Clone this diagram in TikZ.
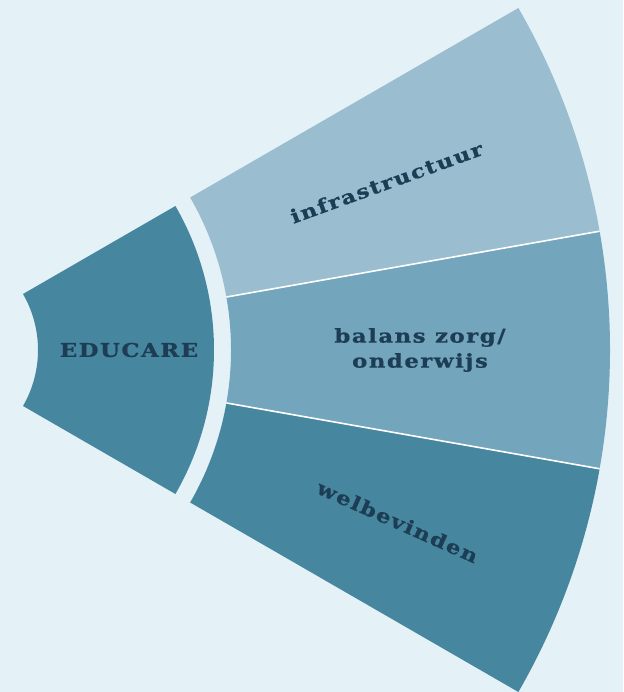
\documentclass[tikz,border=0pt]{standalone}
\usepackage{fontspec}
\setmainfont{DejaVu Serif}
\newfontfamily\labfont[FakeStretch=1.2,LetterSpace=8,BoldFeatures={FakeBold=0.8}]{DejaVu Serif}
\definecolor{bgc}{HTML}{E4F2F8}
\definecolor{secdark}{HTML}{46879F}
\definecolor{sectop}{HTML}{9BBDD0}
\definecolor{secmid}{HTML}{73A5BD}
\definecolor{txt}{HTML}{1C3D54}
\tikzset{
  lab/.style={text=txt, font=\labfont\bfseries\fontsize{19}{25}\selectfont, align=center, inner sep=0pt},
  divider/.style={draw=white, line width=1.6pt}
}
\begin{document}
\begin{tikzpicture}[x=1pt,y=1pt]
\useasboundingbox (0,0) rectangle (623,692);
\fill[bgc] (0,0) rectangle (623,692);
\coordinate (C) at (-74,342);
\begin{scope}[shift={(C)}]
  % inner sector
  \fill[secdark] (-30:112) -- (-30:288) arc[start angle=-30,end angle=30,radius=288]
     -- (30:112) arc[start angle=30,end angle=-30,radius=112] -- cycle;
  % outer sectors
  \fill[sectop] (10:305) -- (10:684) arc[start angle=10,end angle=30,radius=684]
     -- (30:305) arc[start angle=30,end angle=10,radius=305] -- cycle;
  \fill[secmid] (-10:305) -- (-10:684) arc[start angle=-10,end angle=10,radius=684]
     -- (10:305) arc[start angle=10,end angle=-10,radius=305] -- cycle;
  \fill[secdark] (-30:305) -- (-30:684) arc[start angle=-30,end angle=-10,radius=684]
     -- (-10:305) arc[start angle=-10,end angle=-30,radius=305] -- cycle;
  \coordinate (d1a) at (10:305);
  \coordinate (d1b) at (10:684);
  \coordinate (d2a) at (-10:305);
  \coordinate (d2b) at (-10:684);
  \draw[divider] (d1a) -- (d1b);
  \draw[divider] (d2a) -- (d2b);
  \node[lab] (educare) at (0:203) {EDUCARE};
  \node[lab, rotate=20] (infra) at (20:490) {infrastructuur};
  \node[lab] (balans) at (0:494) {balans zorg/\\onderwijs};
  \node[lab, rotate=-24] (welb) at (-20:502) {welbevinden};
\end{scope}
\end{tikzpicture}
\end{document}
